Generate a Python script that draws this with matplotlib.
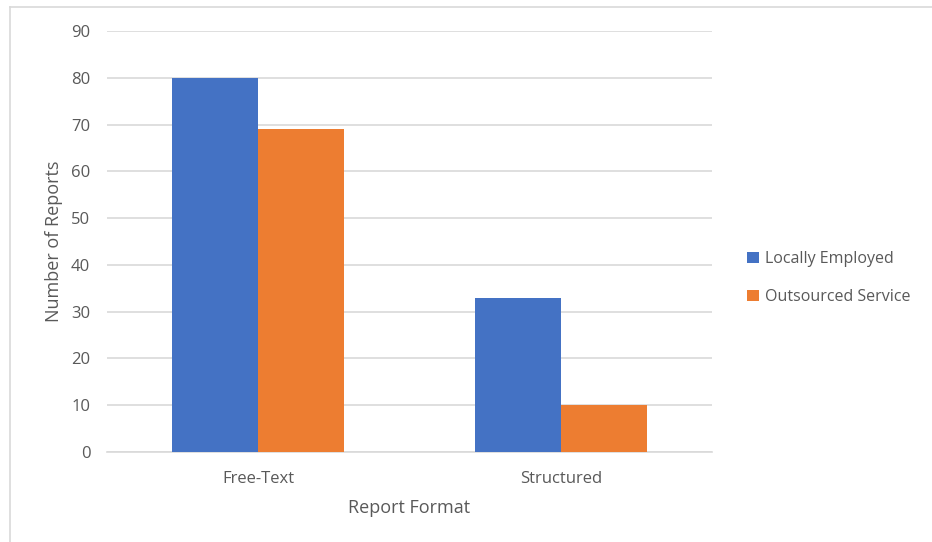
import numpy as np
import matplotlib
matplotlib.use("Agg")
from matplotlib import pyplot as plt
from matplotlib.lines import Line2D

categories = ["Free-Text", "Structured"]
locally_employed = [80, 33]
outsourced_service = [69, 10]
series_names = ["Locally Employed", "Outsourced Service"]

plt.rcParams['font.family'] = ['Open Sans', 'DejaVu Sans']

fig = plt.figure(figsize=(9.32, 5.42), dpi=100)
ax = fig.add_axes([107/932, 90/542, 605/932, 421/542])

x = np.arange(len(categories))
w = 0.285
ax.bar(x - w/2, locally_employed, w, color='#4472C4', label=series_names[0], zorder=3)
ax.bar(x + w/2, outsourced_service, w, color='#ED7D31', label=series_names[1], zorder=3)

ax.set_xlim(-0.5, 1.5)
ax.set_ylim(0, 90)
ax.set_yticks(range(0, 91, 10))
ax.set_xticks(x)
ax.set_xticklabels(categories)
ax.yaxis.grid(True, color='#D9D9D9', linewidth=1.2, zorder=0)
for s in ['top', 'right', 'left']:
    ax.spines[s].set_visible(False)
ax.spines['bottom'].set_color('#D9D9D9')
ax.spines['bottom'].set_linewidth(1.2)
ax.tick_params(axis='both', length=0, labelsize=12, labelcolor='#595959')
ax.tick_params(axis='y', pad=12)
ax.tick_params(axis='x', pad=14)
ax.set_xlabel('Report Format', fontsize=13, color='#595959', labelpad=8)
ax.set_ylabel('Number of Reports', fontsize=13, color='#595959', labelpad=6)

leg = fig.legend(loc='center left', bbox_to_anchor=(733/932, 1 - 278/542), frameon=False,
                 fontsize=11.5, handlelength=0.7, handleheight=0.7, handletextpad=0.4,
                 labelspacing=1.35, labelcolor='#595959')

# outer chart border (left and top only visible)
fig.add_artist(Line2D([10/932, 10/932], [0, 1 - 7/542], color='#D9D9D9', lw=1.2, transform=fig.transFigure))
fig.add_artist(Line2D([10/932, 1], [1 - 7/542, 1 - 7/542], color='#D9D9D9', lw=1.2, transform=fig.transFigure))

plt.savefig("out.png", dpi=100)
